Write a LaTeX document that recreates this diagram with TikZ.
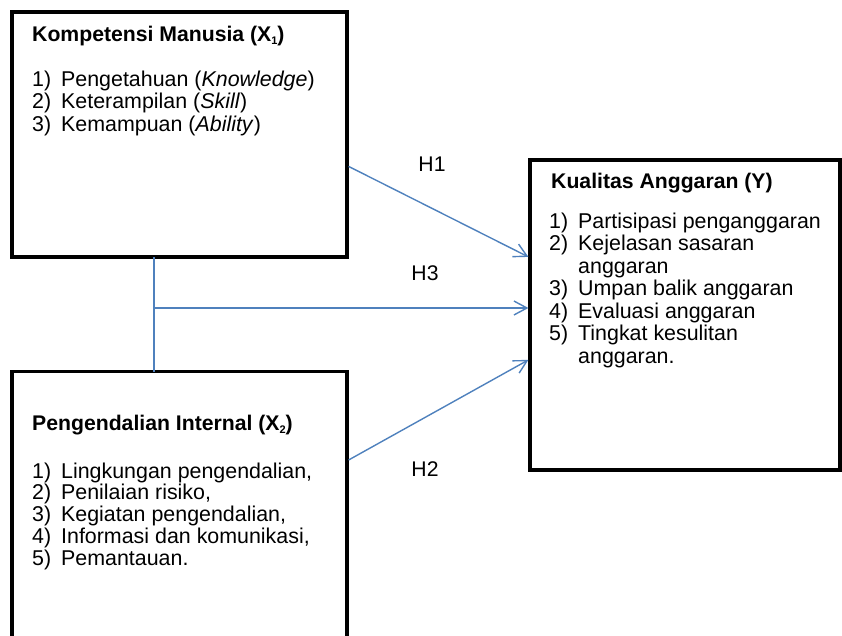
\documentclass[tikz,border=0pt]{standalone}
\usepackage{fontspec}
\setmainfont{Liberation Sans}
\usetikzlibrary{arrows.meta,calc}
\definecolor{lineblue}{RGB}{79,129,189}
\newcommand{\itm}[1]{\makebox[29pt][l]{#1}}
\newcommand{\sbx}[1]{\raisebox{-3pt}{\fontsize{11}{11}\selectfont #1}}
\begin{document}
\begin{tikzpicture}[x=1pt,y=-1pt,
  boxline/.style={draw=black, line width=3.2pt},
  conn/.style={draw=lineblue, line width=1.4pt},
  arr/.style={conn, -{Straight Barb[length=13pt,width=14pt,line width=1.4pt]}},
  titletext/.style={anchor=base west, inner sep=0pt, font=\bfseries\fontsize{21.2}{22}\selectfont},
  itemtext/.style={anchor=base west, inner sep=0pt},
  hlabel/.style={anchor=base, inner sep=0pt, font=\fontsize{21.2}{22}\selectfont}]
\useasboundingbox (0,0) rectangle (842,636);
% boxes
\node[boxline, minimum width=335pt, minimum height=245pt, inner sep=0pt] (x1) at (179.5,134.5) {};
\node[boxline, minimum width=310pt, minimum height=310pt, inner sep=0pt] (y) at (685,315) {};
\node[minimum width=335pt, minimum height=264.5pt, inner sep=0pt, outer sep=0pt] (x2) at (179.5,503.75) {};
\draw[boxline] (x2.south west) |- (x2.north east) -- (x2.south east);
% texts
\node[titletext] (x1t) at (32,41.7) {Kompetensi Manusia (X\sbx{1})};
\node[itemtext] (x1l) at (32,86.7) {\fontsize{21.4}{22.3}\selectfont\begin{tabular}[t]{@{}l@{}}
\itm{1)}Pengetahuan (\textit{Knowledge})\\
\itm{2)}Keterampilan (\textit{Skill})\\
\itm{3)}Kemampuan (\textit{Ability})
\end{tabular}};
\node[titletext] (x2t) at (32,430) {Pengendalian Internal (X\sbx{2})};
\node[itemtext] (x2l) at (32,478) {\fontsize{21.4}{21.3}\selectfont\begin{tabular}[t]{@{}l@{}}
\itm{1)}Lingkungan pengendalian,\\
\itm{2)}Penilaian risiko,\\
\itm{3)}Kegiatan pengendalian,\\
\itm{4)}Informasi dan komunikasi,\\
\itm{5)}Pemantauan.
\end{tabular}};
\node[titletext] (yt) at (551,188.3) {Kualitas Anggaran (Y)};
\node[itemtext] (yl) at (549,228.3) {\fontsize{21.4}{22.5}\selectfont\begin{tabular}[t]{@{}l@{}}
\itm{1)}Partisipasi penganggaran\\
\itm{2)}Kejelasan sasaran\\
\itm{}anggaran\\
\itm{3)}Umpan balik anggaran\\
\itm{4)}Evaluasi anggaran\\
\itm{5)}Tingkat kesulitan\\
\itm{}anggaran.
\end{tabular}};
% connectors
\coordinate (jtop) at ($(x1.south west)+(143.4,-1.6)$);
\coordinate (jbot) at (x2.north west -| jtop);
\coordinate (jmid) at ($(jtop)+(0,51)$);
\draw[conn] (jtop) -- (jbot);
\draw[arr] (jmid) -- (jmid -| y.west);
\draw[arr] ($(x1.north east)+(0,156)$) -- ($(y.north west)+(0,98.5)$);
\draw[arr] ($(x2.north east)+(1.6,88.5)$) -- ($(y.north west)+(0,201.5)$);
% labels
\node[hlabel] (h1) at (432,171.7) {H1};
\node[hlabel] (h3) at (425,280) {H3};
\node[hlabel] (h2) at (425,476.7) {H2};
\end{tikzpicture}
\end{document}
